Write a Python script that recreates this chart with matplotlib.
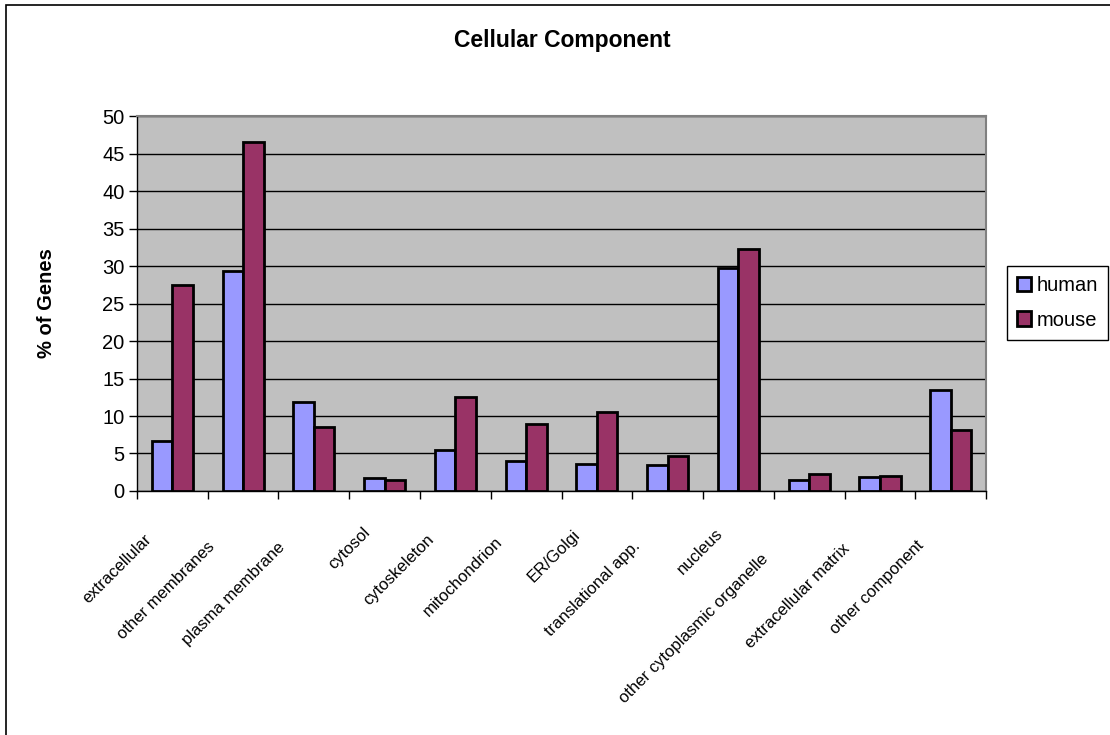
import numpy as np
import matplotlib
matplotlib.use('Agg')
from matplotlib import pyplot as plt
from matplotlib import font_manager
from matplotlib.patches import Rectangle
from matplotlib.transforms import ScaledTranslation

plt.rcParams['font.family'] = ['Liberation Sans', 'DejaVu Sans']

categories = ['extracellular', 'other membranes', 'plasma membrane', 'cytosol',
              'cytoskeleton', 'mitochondrion', 'ER/Golgi', 'translational app.',
              'nucleus', 'other cytoplasmic organelle', 'extracellular matrix',
              'other component']
human = [6.7, 29.3, 11.9, 1.7, 5.5, 4.0, 3.6, 3.5, 29.7, 1.4, 1.9, 13.5]
mouse = [27.5, 46.6, 8.6, 1.5, 12.6, 8.9, 10.5, 4.7, 32.3, 2.3, 2.0, 8.2]
series_names = ['human', 'mouse']
yticks = [0, 5, 10, 15, 20, 25, 30, 35, 40, 45, 50]

# narrow face for the slanted category names, if it is there
names = {f.name for f in font_manager.fontManager.ttflist}
if 'Liberation Sans Narrow' in names:
    cat_font, cat_size = 'Liberation Sans Narrow', 14
else:
    cat_font, cat_size = 'Liberation Sans', 12

fig = plt.figure(figsize=(11.1, 7.35), dpi=100)
ax = fig.add_axes([0.1234, 0.332, 0.765, 0.510])
ax.set_facecolor('#C0C0C0')

x = np.arange(len(categories))
w = 0.29
ax.bar(x - w / 2, human, w, color='#9999FF', edgecolor='black', linewidth=2,
       label=series_names[0], zorder=3)
ax.bar(x + w / 2, mouse, w, color='#993366', edgecolor='black', linewidth=2,
       label=series_names[1], zorder=3)

ax.set_xlim(-0.5, len(categories) - 0.5)
ax.set_ylim(0, 50)
ax.set_yticks(yticks)
ax.yaxis.grid(True, color='black', linewidth=1, zorder=1)
ax.set_axisbelow(True)
ax.tick_params(axis='y', labelsize=14.5, length=6, width=1, pad=3, direction='out')

# category ticks sit on the boundaries, labels in the middle
ax.set_xticks(np.arange(len(categories) + 1) - 0.5)
ax.set_xticklabels([])
ax.tick_params(axis='x', length=6, width=1, direction='out')
ax.set_xticks(x, minor=True)
ax.set_xticklabels(categories, minor=True, rotation=45, ha='right', va='top',
                   rotation_mode='anchor', fontsize=cat_size, family=cat_font)
ax.tick_params(axis='x', which='minor', length=0, pad=0)

for s in ('top', 'right'):
    ax.spines[s].set_color('#808080')
    ax.spines[s].set_linewidth(1.5)
for s in ('left', 'bottom'):
    ax.spines[s].set_color('black')
    ax.spines[s].set_linewidth(1)

ax.set_ylabel('% of Genes', fontsize=14.5, fontweight='bold')
ax.yaxis.set_label_coords(-0.095, 0.5)
fig.text(562 / 1110, 1 - 47 / 735, 'Cellular Component', ha='center', va='baseline',
         fontsize=16.5, fontweight='bold')

leg = ax.legend(loc='center left', bbox_to_anchor=(1007 / 1110, 1 - 303 / 735),
                bbox_transform=fig.transFigure, fontsize=14.5, frameon=True,
                fancybox=False, edgecolor='black', framealpha=1,
                handlelength=0.7, handleheight=0.7, handletextpad=0.25,
                labelspacing=0.75, borderpad=0.5, borderaxespad=0)
leg.get_frame().set_linewidth(1)

# longer rotated labels slide further down along their own direction
fig.canvas.draw()
for lbl in ax.get_xticklabels(minor=True):
    bb = lbl.get_window_extent()
    d = 10 + 0.25 * bb.width
    lbl.set_transform(lbl.get_transform() +
                      ScaledTranslation(-d / 100, -(d + 12) / 100, fig.dpi_scale_trans))

fig.patches.append(Rectangle((6 / 1110, -0.1), 1.2, 1 - 5 / 735 + 0.1,
                             transform=fig.transFigure, fill=False,
                             edgecolor='black', linewidth=1.2))

plt.savefig('out.png', dpi=100)
